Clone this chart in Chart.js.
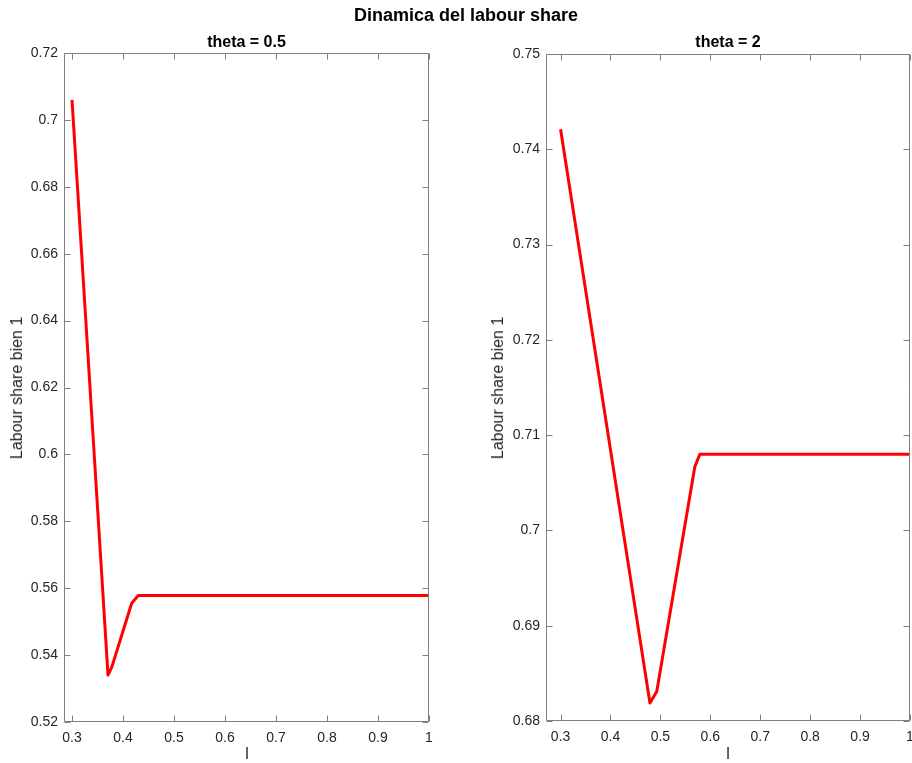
<!DOCTYPE html>
<html>
<head>
<meta charset="utf-8">
<script src="https://cdn.jsdelivr.net/npm/chart.js@4.4.1/dist/chart.umd.min.js"></script>
<style>
  html, body { margin: 0; padding: 0; background: #fff; }
  #wrap { position: relative; width: 912px; height: 763px; overflow: hidden; font-family: "Liberation Sans", Arial, sans-serif; color: #000; }
  canvas { position: absolute; left: 0; top: 0; }
  .txt { position: absolute; white-space: nowrap; transform: translate(-50%, -50%); }
  .main { font-weight: bold; font-size: 18px; }
  .sub { font-weight: bold; font-size: 16px; }
  .lab { font-size: 16px; color: #262626; }
  .rot { transform: translate(-50%, -50%) rotate(-90deg); }
</style>
</head>
<body>
<div id="wrap">
  <canvas id="c1" width="912" height="763"></canvas>
  <canvas id="c2" width="912" height="763"></canvas>
  <div class="txt main" style="left:466px; top:15px;">Dinamica del labour share</div>
  <div class="txt sub" style="left:246.5px; top:42px;">theta = 0.5</div>
  <div class="txt sub" style="left:728px; top:42px;">theta = 2</div>
  <div class="txt lab rot" style="left:17px; top:388px;">Labour share bien 1</div>
  <div class="txt lab rot" style="left:498px; top:388px;">Labour share bien 1</div>
  <div class="txt lab" style="left:247px; top:754px;">l</div>
  <div class="txt lab" style="left:728px; top:754px;">l</div>
</div>
<script>
// ---- data ----
const xLeft  = [0.3, 0.3706, 0.378, 0.417, 0.43, 1.0];
const yLeft  = [0.706, 0.534, 0.5364, 0.5555, 0.5578, 0.5578];
const xRight = [0.3, 0.479, 0.4927, 0.569, 0.579, 1.0];
const yRight = [0.7421, 0.6819, 0.6831, 0.7067, 0.7080, 0.7080];

const xTicks      = [0.3, 0.4, 0.5, 0.6, 0.7, 0.8, 0.9, 1.0];
const yTicksLeft  = [0.52, 0.54, 0.56, 0.58, 0.60, 0.62, 0.64, 0.66, 0.68, 0.70, 0.72];
const yTicksRight = [0.68, 0.69, 0.70, 0.71, 0.72, 0.73, 0.74, 0.75];

const FONT = { family: '"Liberation Sans", Arial, sans-serif', size: 14 };
const TXT = '#262626';
const BOX = '#7f7f7f';

const matlabBox = {
  id: 'matlabBox',
  afterDraw(chart) {
    const { ctx, chartArea: a, scales } = chart;
    const L = Math.round(a.left) + 0.5, R = Math.round(a.right) - 0.5;
    const T = Math.round(a.top) + 0.5, B = Math.round(a.bottom) - 0.5;
    const tl = 6;
    ctx.save();
    ctx.strokeStyle = BOX;
    ctx.lineWidth = 1;
    ctx.beginPath();
    ctx.rect(L, T, R - L, B - T);
    scales.x.ticks.forEach(t => {
      const p = Math.round(scales.x.getPixelForValue(t.value)) + 0.5;
      ctx.moveTo(p, B); ctx.lineTo(p, B - tl);
      ctx.moveTo(p, T); ctx.lineTo(p, T + tl);
    });
    scales.y.ticks.forEach(t => {
      const p = Math.round(scales.y.getPixelForValue(t.value)) + 0.5;
      ctx.moveTo(L, p); ctx.lineTo(L + tl, p);
      ctx.moveTo(R, p); ctx.lineTo(R - tl, p);
    });
    ctx.stroke();
    ctx.restore();
  }
};

function fmt(v) { return String(Number(v.toFixed(4))); }

function makeChart(id, xs, ys, xmin, xmax, ymin, ymax, yTicks, padding) {
  const pts = xs.map((x, i) => ({ x: x, y: ys[i] }));
  return new Chart(document.getElementById(id), {
    type: 'line',
    data: { datasets: [{ data: pts, borderColor: '#ff0000', borderWidth: 3, pointRadius: 0, tension: 0, fill: false, borderJoinStyle: 'round' }] },
    plugins: [matlabBox],
    options: {
      responsive: false,
      animation: false,
      devicePixelRatio: 1,
      layout: { padding: padding },
      plugins: { legend: { display: false }, tooltip: { enabled: false }, title: { display: false } },
      scales: {
        x: {
          type: 'linear', min: xmin, max: xmax,
          grid: { display: false, drawTicks: false },
          border: { display: false },
          ticks: { font: FONT, color: TXT, padding: 8, maxRotation: 0, autoSkip: false, callback: v => fmt(v) },
          afterBuildTicks: s => { s.ticks = xTicks.map(v => ({ value: v })); },
          afterFit: s => { s.height = 30; s.paddingLeft = 0; s.paddingRight = 0; }
        },
        y: {
          type: 'linear', min: ymin, max: ymax,
          grid: { display: false, drawTicks: false },
          border: { display: false },
          ticks: { font: FONT, color: TXT, padding: 6, autoSkip: false, callback: v => fmt(v) },
          afterBuildTicks: s => { s.ticks = yTicks.map(v => ({ value: v })); },
          afterFit: s => { s.width = 50; s.paddingTop = 0; s.paddingBottom = 0; }
        }
      }
    }
  });
}

makeChart('c1', xLeft, yLeft, 0.2843, 1.0, 0.52, 0.72, yTicksLeft, { left: 14, right: 483, top: 53, bottom: 11 });
makeChart('c2', xRight, yRight, 0.2708, 1.0, 0.68, 0.75, yTicksRight, { left: 496, right: 2, top: 54, bottom: 12 });
</script>
</body>
</html>
